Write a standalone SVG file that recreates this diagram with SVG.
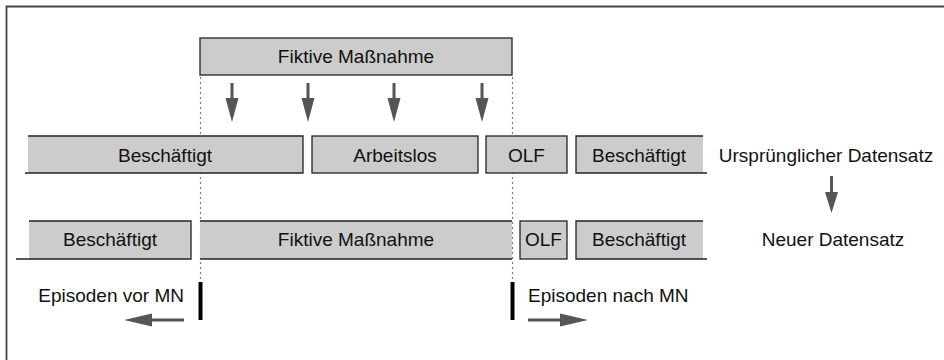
<svg xmlns="http://www.w3.org/2000/svg" width="944" height="360" viewBox="0 0 944 360">
<style>
.box{fill:#cccccc;stroke:#222;stroke-width:1.3}
.fill{fill:#cccccc;stroke:none}
.edge{fill:none;stroke:#222;stroke-width:1.3}
.t{font-family:"Liberation Sans",Arial,sans-serif;font-size:19px;fill:#111;text-anchor:middle}
.dot{stroke:#777;stroke-width:1.2;stroke-dasharray:2 3;fill:none}
.arr{stroke:#555;stroke-width:3;fill:none}
.head{fill:#555}
.bar{fill:#000}
</style>
<rect width="944" height="360" fill="#fff"/>
<g id="frame">
<path d="M6.5 360 V6.5 H944" fill="none" stroke="#444" stroke-width="1.8"/>
</g>
<g id="connectors">
<path class="dot" d="M200.5 77 V282 M512.5 77 V282"/>
<g id="down-arrows">
<path class="arr" d="M232 83 V102 M308 83 V102 M394 83 V102 M482 83 V102 M831.5 176 V196"/>
<path class="head" d="M225.5 98 L238.5 98 L232 122 Z M301.5 98 L314.5 98 L308 122 Z M387.5 98 L400.5 98 L394 122 Z M475.5 98 L488.5 98 L482 122 Z M825 192 L838 192 L831.5 213 Z"/>
</g>
<path class="arr" d="M184 320 H146 M528 320 H566"/>
<path class="head" d="M124 320 L152 313.5 L152 326.5 Z M588 320 L560 313.5 L560 326.5 Z"/>
<rect class="bar" x="198.5" y="282" width="4" height="38"/>
<rect class="bar" x="510.5" y="282" width="4" height="38"/>
</g>
<g id="n-massnahme-top">
<rect class="box" x="200" y="38" width="312" height="37"/>
<text class="t" x="356" y="63">Fiktive Maßnahme</text>
</g>
<g id="n-r1-besch1">
<rect class="fill" x="28" y="136" width="275" height="37"/>
<path class="edge" d="M28 136 H303 V173 H25"/>
<text class="t" x="165" y="162">Beschäftigt</text>
</g>
<g id="n-r1-arbeitslos">
<rect class="box" x="312" y="136" width="166" height="37"/>
<text class="t" x="395" y="162">Arbeitslos</text>
</g>
<g id="n-r1-olf">
<rect class="box" x="486" y="136" width="81" height="37"/>
<text class="t" x="526.5" y="162">OLF</text>
</g>
<g id="n-r1-besch2">
<rect class="fill" x="576" y="136" width="127" height="37"/>
<path class="edge" d="M703 136 H576 V173 H707"/>
<text class="t" x="639" y="162">Beschäftigt</text>
</g>
<g id="n-label-urspr">
<text class="t" x="826" y="162">Ursprünglicher Datensatz</text>
</g>
<g id="n-r2-besch1">
<rect class="fill" x="29" y="221" width="162" height="38"/>
<path class="edge" d="M29 221 H191 V259 H16"/>
<text class="t" x="110" y="246">Beschäftigt</text>
</g>
<g id="n-r2-massnahme">
<rect class="fill" x="200" y="221" width="312" height="38"/>
<path class="edge" d="M200 221 H512 M200 259 H512"/>
<text class="t" x="356" y="246">Fiktive Maßnahme</text>
</g>
<g id="n-r2-olf">
<rect class="box" x="520" y="221" width="47" height="38"/>
<text class="t" x="543.5" y="246">OLF</text>
</g>
<g id="n-r2-besch2">
<rect class="fill" x="576" y="221" width="127" height="38"/>
<path class="edge" d="M703 221 H576 V259 H707"/>
<text class="t" x="639" y="246">Beschäftigt</text>
</g>
<g id="n-label-neu">
<text class="t" x="833" y="246">Neuer Datensatz</text>
</g>
<g id="n-label-vor">
<text class="t" x="184" y="302" style="text-anchor:end">Episoden vor MN</text>
</g>
<g id="n-label-nach">
<text class="t" x="528" y="302" style="text-anchor:start">Episoden nach MN</text>
</g>
</svg>
